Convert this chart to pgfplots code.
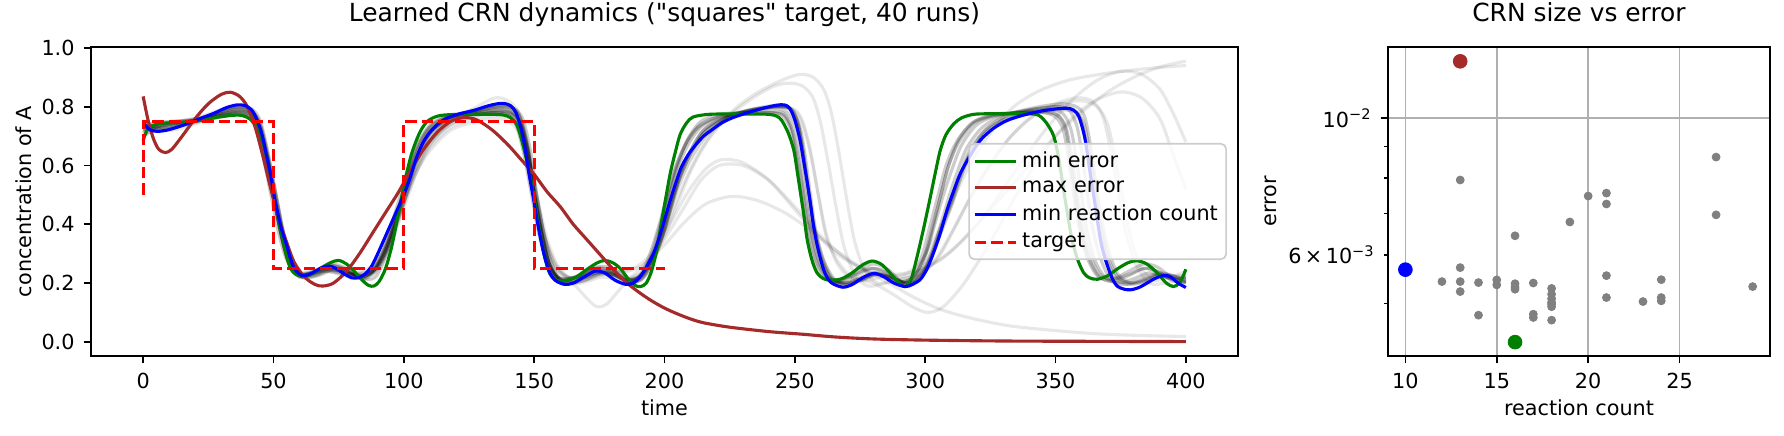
\documentclass[border=0pt]{standalone}
\usepackage{fontspec}
\setmainfont{DejaVu Sans}[Ligatures=TeXOff]
\usepackage{pgfplots}
\pgfplotsset{compat=1.18}
\definecolor{mgreen}{HTML}{008000}
\definecolor{mbrown}{HTML}{A52A2A}
\definecolor{mblue}{HTML}{0000FF}
\definecolor{mred}{HTML}{FF0000}
\definecolor{mgray}{HTML}{808080}
\definecolor{mgrid}{HTML}{B0B0B0}
\pgfplotsset{
  gb/.style={black, draw opacity=0.2, line width=1.5bp, smooth, forget plot, line join=round},
  go/.style={black, draw opacity=0.09, line width=1.5bp, smooth, forget plot, line join=round},
  common/.style={
    scale only axis, anchor=south west,
    axis line style={line width=0.8bp},
    tick style={line width=0.8bp, black},
    tick align=outside, xtick pos=bottom, ytick pos=left,
    major tick length=3.5bp, minor tick length=2bp,
    /pgf/number format/assume math mode=true,
    ticklabel style={font=\fontsize{10}{12}\selectfont},
    xticklabel style={inner sep=0pt, anchor=north, yshift=-4.6bp},
    yticklabel style={inner sep=0pt, anchor=east, xshift=-4.2bp},
    label style={font=\fontsize{10}{12}\selectfont, inner sep=0pt},
    xlabel style={at={(axis description cs:0.5,-0.191)}, anchor=base},
    title style={font=\fontsize{12}{14}\selectfont, at={(axis description cs:0.5,1)}, anchor=base, yshift=6.4bp, inner sep=0pt},
  }
}
\begin{document}
\begin{tikzpicture}
\begin{axis}[common,
  at={(43.68bp,37.92bp)}, width=550.56bp, height=148.32bp,
  xmin=-20, xmax=420, ymin=-0.048, ymax=1.003,
  xtick={0,50,100,150,200,250,300,350,400},
  ytick={0,0.2,0.4,0.6,0.8,1.0},
  yticklabel style={/pgf/number format/fixed, /pgf/number format/fixed zerofill, /pgf/number format/precision=1},
  xlabel={time}, ylabel={concentration of A},
  ylabel style={at={(axis description cs:-0.0521,0.5)}, anchor=base},
  title={Learned CRN dynamics ("squares" target, 40 runs)},
  legend cell align=left,
  legend image code/.code={\draw[line width=1.5bp,#1] (0pt,0pt) -- (20bp,0pt);},
  legend style={at={(axis description cs:1,0.5)}, anchor=east, xshift=-5.3bp,
    font=\fontsize{10}{12}\selectfont, draw=black!20, line width=0.8bp,
    fill=white, fill opacity=0.8, text opacity=1, draw opacity=1,
    rounded corners=2.5bp, inner xsep=2pt, inner ysep=2pt, row sep=0.6pt,
    /tikz/every even column/.append style={column sep=3.5pt}},
]
% gray bundle runs
\addplot[gb] coordinates {(0,0.73)(5,0.735)(10,0.74)(20,0.755)(30,0.78)(36,0.79)(41,0.78)(44,0.74)(47,0.63)(50,0.49)(53,0.36)(56,0.27)(60,0.225)(66,0.235)(72,0.25)(78,0.235)(84,0.225)(89,0.26)(93,0.33)(97,0.43)(100,0.51)(103,0.6)(107,0.68)(111,0.73)(118,0.765)(128,0.785)(136,0.795)(141,0.785)(144,0.75)(147,0.64)(150,0.5)(153,0.36)(156,0.26)(160,0.21)(166,0.215)(174,0.24)(180,0.23)(187,0.205)(192,0.24)(196,0.31)(199,0.4)(202,0.5)(205,0.59)(209,0.67)(214,0.73)(222,0.765)(232,0.785)(242,0.795)(247,0.78)(250,0.73)(252,0.64)(254,0.5)(256,0.39)(259,0.28)(263,0.215)(268,0.2)(274,0.215)(280,0.235)(286,0.22)(292,0.2)(297,0.24)(301,0.32)(304,0.41)(307,0.5)(310,0.58)(314,0.67)(320,0.74)(328,0.77)(338,0.785)(348,0.79)(353,0.775)(356,0.72)(358,0.62)(360,0.5)(362,0.38)(365,0.28)(369,0.22)(374,0.2)(380,0.215)(386,0.235)(391,0.225)(396,0.205)(400,0.205)};
\addplot[gb] coordinates {(0,0.72)(5,0.74)(10,0.745)(20,0.755)(30,0.77)(36,0.775)(40,0.765)(43,0.73)(46,0.63)(49,0.5)(52,0.37)(55,0.28)(59,0.235)(65,0.24)(71,0.26)(77,0.25)(83,0.22)(88,0.24)(92,0.31)(96,0.42)(99,0.51)(102,0.6)(106,0.68)(110,0.73)(117,0.765)(127,0.775)(136,0.78)(140,0.77)(143,0.74)(146,0.64)(149,0.5)(152,0.36)(155,0.27)(159,0.22)(165,0.22)(173,0.25)(179,0.245)(185,0.21)(190,0.22)(194,0.29)(198,0.4)(201,0.5)(204,0.59)(208,0.67)(213,0.73)(221,0.765)(231,0.775)(240,0.78)(245,0.77)(248,0.73)(250,0.65)(252,0.52)(254,0.4)(257,0.29)(261,0.22)(266,0.205)(272,0.225)(279,0.25)(285,0.235)(290,0.205)(295,0.22)(299,0.3)(302,0.4)(305,0.5)(308,0.6)(312,0.68)(318,0.745)(326,0.77)(336,0.78)(345,0.78)(350,0.765)(353,0.72)(355,0.62)(357,0.5)(359,0.39)(362,0.29)(366,0.225)(371,0.21)(378,0.23)(384,0.25)(389,0.24)(394,0.215)(400,0.22)};
\addplot[gb] coordinates {(0,0.75)(5,0.73)(10,0.735)(20,0.755)(30,0.785)(37,0.8)(42,0.79)(45,0.75)(48,0.64)(51,0.5)(54,0.36)(57,0.27)(61,0.22)(67,0.225)(73,0.245)(79,0.235)(85,0.215)(90,0.25)(94,0.32)(98,0.42)(101,0.5)(104,0.59)(108,0.67)(112,0.72)(120,0.765)(130,0.79)(138,0.8)(143,0.79)(146,0.75)(149,0.63)(151,0.5)(154,0.36)(157,0.26)(161,0.205)(168,0.205)(175,0.23)(181,0.225)(188,0.2)(193,0.23)(197,0.3)(200,0.38)(203,0.48)(206,0.57)(210,0.65)(215,0.72)(224,0.765)(234,0.79)(244,0.8)(249,0.79)(252,0.73)(254,0.63)(256,0.5)(258,0.38)(261,0.28)(265,0.215)(270,0.195)(276,0.21)(282,0.23)(288,0.215)(294,0.195)(299,0.23)(303,0.31)(306,0.4)(309,0.49)(312,0.57)(316,0.66)(322,0.73)(330,0.77)(340,0.79)(350,0.8)(355,0.79)(358,0.74)(360,0.65)(362,0.52)(364,0.4)(367,0.29)(371,0.215)(376,0.195)(382,0.21)(388,0.23)(393,0.22)(400,0.2)};
\addplot[gb] coordinates {(0,0.7)(5,0.73)(10,0.745)(20,0.76)(30,0.775)(36,0.785)(41,0.775)(44,0.735)(47,0.63)(50,0.5)(53,0.37)(56,0.27)(60,0.23)(66,0.235)(72,0.255)(78,0.24)(84,0.22)(89,0.25)(93,0.32)(97,0.42)(100,0.5)(103,0.59)(107,0.67)(111,0.725)(118,0.76)(128,0.78)(137,0.79)(142,0.78)(145,0.74)(148,0.63)(150,0.5)(153,0.36)(156,0.26)(160,0.215)(166,0.22)(174,0.245)(180,0.235)(187,0.21)(192,0.235)(196,0.3)(200,0.4)(203,0.49)(206,0.57)(210,0.65)(215,0.72)(223,0.765)(233,0.79)(243,0.8)(248,0.79)(251,0.74)(253,0.64)(255,0.5)(257,0.38)(260,0.28)(264,0.215)(269,0.2)(275,0.215)(281,0.235)(287,0.22)(293,0.2)(298,0.23)(302,0.3)(306,0.39)(310,0.48)(313,0.56)(317,0.65)(323,0.72)(331,0.76)(341,0.78)(352,0.79)(358,0.78)(361,0.74)(363,0.65)(365,0.52)(367,0.4)(370,0.29)(374,0.22)(379,0.2)(385,0.215)(390,0.235)(395,0.225)(400,0.21)};
\addplot[gb] coordinates {(0,0.74)(5,0.745)(10,0.75)(20,0.755)(30,0.77)(36,0.78)(41,0.77)(44,0.74)(47,0.64)(50,0.5)(53,0.36)(56,0.27)(60,0.23)(66,0.24)(72,0.26)(78,0.245)(84,0.225)(89,0.245)(93,0.31)(97,0.42)(100,0.52)(103,0.61)(107,0.69)(111,0.74)(118,0.77)(128,0.78)(137,0.785)(142,0.775)(145,0.74)(148,0.63)(150,0.5)(153,0.36)(156,0.26)(160,0.215)(166,0.22)(174,0.25)(180,0.24)(186,0.215)(191,0.225)(195,0.3)(199,0.42)(202,0.52)(205,0.61)(209,0.69)(214,0.74)(222,0.77)(232,0.78)(241,0.785)(246,0.775)(249,0.72)(251,0.62)(253,0.5)(255,0.39)(258,0.28)(262,0.22)(267,0.205)(273,0.225)(280,0.25)(286,0.235)(291,0.205)(296,0.225)(300,0.3)(303,0.4)(306,0.5)(309,0.6)(313,0.68)(319,0.745)(327,0.77)(337,0.78)(346,0.785)(351,0.77)(354,0.72)(356,0.6)(358,0.48)(360,0.37)(363,0.28)(367,0.22)(372,0.205)(378,0.225)(384,0.25)(389,0.24)(394,0.215)(400,0.215)};
\addplot[gb] coordinates {(0,0.73)(5,0.725)(10,0.73)(20,0.75)(30,0.78)(36,0.795)(41,0.785)(44,0.745)(47,0.64)(50,0.5)(53,0.36)(56,0.265)(60,0.22)(66,0.225)(72,0.245)(78,0.235)(84,0.215)(89,0.245)(93,0.31)(97,0.41)(100,0.5)(103,0.59)(107,0.67)(111,0.72)(118,0.76)(128,0.785)(137,0.8)(142,0.79)(145,0.75)(148,0.64)(150,0.51)(153,0.37)(156,0.265)(160,0.21)(166,0.21)(174,0.235)(180,0.23)(187,0.205)(192,0.23)(196,0.3)(200,0.39)(203,0.48)(206,0.56)(210,0.64)(215,0.71)(223,0.76)(233,0.785)(243,0.8)(248,0.795)(251,0.75)(253,0.66)(255,0.53)(257,0.41)(260,0.3)(264,0.22)(269,0.2)(275,0.21)(281,0.23)(287,0.22)(293,0.2)(298,0.225)(302,0.29)(306,0.38)(310,0.47)(313,0.55)(317,0.64)(323,0.72)(331,0.77)(341,0.795)(352,0.81)(358,0.8)(361,0.77)(363,0.69)(365,0.57)(367,0.45)(370,0.32)(374,0.23)(379,0.2)(385,0.21)(390,0.23)(395,0.225)(400,0.205)};
\addplot[gb] coordinates {(0,0.74)(5,0.72)(10,0.725)(20,0.75)(30,0.785)(36,0.8)(41,0.79)(44,0.75)(47,0.645)(50,0.5)(53,0.36)(56,0.265)(60,0.225)(66,0.23)(72,0.25)(78,0.24)(84,0.22)(89,0.25)(93,0.32)(97,0.42)(100,0.5)(103,0.58)(107,0.66)(111,0.72)(118,0.765)(128,0.79)(137,0.805)(142,0.795)(145,0.755)(148,0.645)(150,0.51)(153,0.37)(156,0.26)(160,0.205)(166,0.205)(174,0.235)(180,0.23)(187,0.2)(192,0.225)(196,0.29)(200,0.38)(203,0.47)(206,0.56)(210,0.64)(215,0.71)(223,0.76)(233,0.79)(243,0.805)(248,0.795)(251,0.75)(253,0.66)(255,0.53)(257,0.41)(260,0.29)(264,0.21)(269,0.195)(275,0.21)(281,0.23)(287,0.215)(293,0.195)(298,0.22)(302,0.28)(306,0.37)(310,0.46)(313,0.54)(317,0.63)(323,0.71)(331,0.76)(341,0.79)(352,0.8)(357,0.79)(360,0.75)(362,0.66)(364,0.54)(366,0.42)(369,0.3)(373,0.22)(378,0.195)(384,0.205)(389,0.225)(394,0.22)(400,0.2)};
\addplot[gb] coordinates {(0,0.71)(5,0.74)(10,0.745)(20,0.75)(30,0.765)(36,0.775)(41,0.765)(44,0.73)(47,0.63)(50,0.5)(53,0.37)(56,0.275)(60,0.23)(66,0.24)(72,0.265)(78,0.25)(84,0.215)(89,0.22)(93,0.29)(97,0.41)(100,0.52)(103,0.62)(107,0.7)(111,0.745)(118,0.77)(128,0.775)(137,0.78)(142,0.77)(145,0.735)(148,0.63)(150,0.5)(153,0.35)(156,0.25)(160,0.21)(166,0.22)(174,0.255)(180,0.25)(186,0.215)(191,0.21)(195,0.27)(199,0.39)(202,0.5)(205,0.6)(209,0.69)(214,0.75)(222,0.775)(232,0.78)(241,0.78)(246,0.77)(249,0.72)(251,0.64)(253,0.53)(255,0.42)(258,0.3)(262,0.225)(267,0.21)(273,0.235)(280,0.265)(286,0.245)(291,0.205)(296,0.215)(300,0.29)(303,0.39)(306,0.5)(309,0.6)(313,0.69)(319,0.75)(327,0.775)(337,0.78)(346,0.78)(351,0.77)(354,0.73)(356,0.64)(358,0.52)(360,0.41)(363,0.3)(367,0.23)(372,0.215)(378,0.24)(384,0.265)(389,0.255)(394,0.225)(400,0.225)};
% gray outlier runs
\addplot[go] coordinates {(0,0.72)(10,0.74)(20,0.76)(30,0.79)(37,0.8)(42,0.785)(45,0.74)(48,0.63)(51,0.5)(54,0.36)(57,0.26)(61,0.22)(70,0.24)(80,0.22)(88,0.24)(93,0.31)(97,0.41)(101,0.51)(105,0.62)(110,0.7)(118,0.76)(128,0.79)(136,0.81)(141,0.8)(145,0.76)(148,0.65)(151,0.5)(154,0.35)(157,0.25)(162,0.2)(170,0.21)(178,0.23)(186,0.21)(192,0.24)(197,0.31)(202,0.42)(207,0.53)(213,0.64)(220,0.73)(228,0.8)(236,0.85)(245,0.89)(252,0.91)(257,0.9)(261,0.86)(264,0.78)(267,0.64)(270,0.48)(273,0.34)(277,0.24)(282,0.2)(288,0.21)(294,0.22)(300,0.24)(306,0.3)(312,0.4)(318,0.5)(325,0.6)(333,0.7)(342,0.77)(352,0.81)(360,0.82)(366,0.8)(370,0.74)(373,0.62)(376,0.48)(379,0.35)(383,0.25)(388,0.21)(394,0.22)(400,0.24)};
\addplot[go] coordinates {(0,0.74)(10,0.72)(20,0.74)(30,0.775)(37,0.79)(42,0.78)(45,0.74)(48,0.62)(51,0.48)(54,0.35)(57,0.26)(61,0.22)(70,0.25)(80,0.23)(88,0.23)(93,0.29)(97,0.38)(101,0.48)(105,0.58)(110,0.67)(118,0.75)(128,0.8)(135,0.83)(140,0.82)(144,0.78)(147,0.67)(150,0.52)(153,0.37)(156,0.26)(161,0.2)(168,0.2)(176,0.22)(184,0.21)(190,0.22)(195,0.27)(200,0.36)(205,0.47)(210,0.58)(217,0.69)(225,0.77)(234,0.83)(242,0.87)(248,0.88)(253,0.87)(257,0.83)(260,0.74)(263,0.6)(266,0.45)(269,0.32)(273,0.23)(278,0.19)(285,0.2)(292,0.215)(298,0.23)(304,0.28)(310,0.37)(316,0.47)(323,0.58)(331,0.68)(340,0.76)(350,0.81)(358,0.83)(364,0.82)(368,0.77)(371,0.66)(374,0.51)(377,0.37)(381,0.26)(386,0.2)(392,0.2)(400,0.22)};
\addplot[go] coordinates {(0,0.72)(10,0.73)(20,0.75)(30,0.77)(37,0.78)(42,0.77)(45,0.73)(48,0.62)(51,0.48)(54,0.36)(57,0.27)(61,0.23)(70,0.24)(80,0.23)(88,0.25)(93,0.31)(97,0.4)(101,0.5)(105,0.59)(110,0.67)(118,0.74)(128,0.77)(136,0.78)(141,0.77)(145,0.72)(148,0.61)(151,0.47)(154,0.34)(158,0.25)(164,0.22)(172,0.23)(180,0.24)(188,0.25)(195,0.3)(202,0.4)(209,0.51)(216,0.59)(222,0.62)(230,0.61)(240,0.55)(250,0.45)(258,0.37)(266,0.3)(276,0.25)(286,0.23)(296,0.24)(306,0.28)(316,0.36)(326,0.47)(336,0.6)(346,0.72)(356,0.82)(366,0.89)(375,0.92)(383,0.91)(390,0.86)(395,0.78)(400,0.68)};
\addplot[go] coordinates {(0,0.72)(10,0.74)(20,0.75)(30,0.77)(37,0.78)(42,0.765)(45,0.72)(48,0.61)(51,0.48)(54,0.36)(57,0.27)(61,0.23)(70,0.24)(80,0.23)(88,0.26)(93,0.32)(97,0.41)(101,0.5)(105,0.58)(110,0.65)(118,0.72)(128,0.75)(136,0.76)(141,0.745)(145,0.7)(149,0.58)(152,0.46)(155,0.35)(159,0.26)(165,0.2)(170,0.15)(174,0.12)(178,0.13)(184,0.19)(192,0.26)(200,0.33)(208,0.41)(216,0.47)(226,0.495)(236,0.48)(246,0.44)(256,0.38)(266,0.31)(276,0.25)(286,0.2)(296,0.15)(306,0.11)(318,0.08)(332,0.055)(348,0.04)(365,0.028)(382,0.022)(400,0.018)};
\addplot[go] coordinates {(0,0.73)(10,0.74)(20,0.755)(30,0.775)(37,0.785)(42,0.77)(45,0.73)(48,0.62)(51,0.49)(54,0.36)(57,0.27)(61,0.23)(70,0.245)(80,0.23)(88,0.245)(93,0.3)(97,0.39)(101,0.49)(105,0.58)(110,0.66)(118,0.73)(128,0.76)(136,0.77)(141,0.76)(145,0.72)(148,0.62)(151,0.49)(154,0.36)(158,0.27)(163,0.22)(170,0.22)(178,0.24)(186,0.24)(193,0.27)(200,0.35)(207,0.45)(214,0.55)(221,0.6)(230,0.6)(240,0.55)(250,0.46)(260,0.36)(270,0.28)(280,0.23)(290,0.22)(300,0.25)(310,0.31)(320,0.4)(330,0.5)(340,0.6)(350,0.7)(360,0.78)(370,0.85)(380,0.9)(390,0.935)(400,0.955)};
\addplot[go] coordinates {(0,0.74)(10,0.73)(20,0.745)(30,0.775)(37,0.79)(42,0.78)(45,0.74)(48,0.63)(51,0.5)(54,0.37)(57,0.27)(61,0.225)(70,0.245)(80,0.225)(88,0.24)(93,0.31)(97,0.41)(101,0.51)(105,0.6)(110,0.68)(118,0.745)(128,0.775)(136,0.785)(141,0.775)(145,0.73)(148,0.62)(151,0.49)(154,0.36)(158,0.26)(163,0.21)(170,0.215)(178,0.235)(186,0.21)(192,0.235)(197,0.31)(201,0.41)(205,0.52)(210,0.62)(216,0.7)(224,0.76)(234,0.79)(244,0.8)(250,0.785)(253,0.74)(256,0.64)(259,0.5)(262,0.37)(266,0.27)(271,0.22)(278,0.21)(285,0.225)(292,0.23)(298,0.27)(304,0.36)(310,0.47)(317,0.6)(325,0.71)(334,0.8)(344,0.855)(355,0.89)(367,0.91)(380,0.925)(392,0.935)(400,0.94)};
\addplot[go] coordinates {(0,0.7)(10,0.74)(20,0.75)(30,0.775)(37,0.785)(42,0.775)(45,0.735)(48,0.63)(51,0.5)(54,0.37)(57,0.27)(61,0.23)(70,0.25)(80,0.23)(88,0.24)(93,0.3)(97,0.4)(101,0.5)(105,0.6)(110,0.68)(118,0.74)(128,0.77)(136,0.785)(141,0.775)(145,0.73)(148,0.62)(151,0.49)(154,0.36)(158,0.26)(163,0.22)(170,0.22)(178,0.24)(186,0.22)(192,0.24)(197,0.31)(201,0.41)(205,0.52)(210,0.62)(216,0.7)(224,0.76)(234,0.79)(244,0.8)(250,0.79)(253,0.75)(256,0.65)(259,0.5)(262,0.36)(266,0.28)(272,0.22)(280,0.2)(288,0.16)(295,0.12)(301,0.1)(307,0.12)(315,0.2)(325,0.34)(335,0.5)(345,0.64)(355,0.75)(365,0.82)(375,0.85)(383,0.83)(390,0.76)(395,0.64)(400,0.52)};
% highlighted runs
\addplot[mgreen, line width=1.5bp, smooth, line join=round] coordinates {(0,0.685)(1.5,0.72)(3.5,0.735)(6,0.742)(10,0.745)(15,0.746)(20,0.75)(25,0.758)(30,0.766)(35,0.771)(38,0.77)(41,0.758)(43.5,0.73)(46,0.675)(48,0.615)(50,0.505)(51.5,0.43)(53,0.37)(54.8,0.3)(56.5,0.25)(58.5,0.23)(61,0.222)(64,0.228)(68,0.25)(72,0.27)(75,0.277)(78,0.265)(81,0.24)(84,0.21)(86.5,0.192)(88.5,0.19)(90.5,0.205)(93,0.25)(95.5,0.33)(98,0.44)(100.5,0.55)(103,0.64)(106,0.71)(109,0.75)(113,0.768)(118,0.773)(125,0.774)(133,0.774)(138,0.772)(141,0.762)(143.5,0.735)(146,0.66)(148,0.58)(150,0.49)(152,0.38)(154,0.29)(156,0.232)(158.5,0.21)(162,0.208)(166,0.22)(170,0.245)(174,0.268)(177,0.277)(180,0.27)(183,0.25)(186,0.215)(188.5,0.193)(190.8,0.188)(193,0.2)(195,0.24)(197,0.31)(198.5,0.39)(200.5,0.49)(202.2,0.573)(204,0.64)(206,0.705)(208.5,0.745)(211,0.765)(217,0.774)(225,0.775)(234,0.775)(240,0.774)(243,0.768)(245,0.753)(247.5,0.71)(249.6,0.652)(251,0.575)(252,0.517)(253.5,0.43)(254.7,0.35)(256.5,0.28)(258.5,0.235)(261,0.215)(264.3,0.21)(268,0.215)(272,0.235)(276,0.262)(279.6,0.275)(283,0.265)(286,0.24)(289,0.21)(292.3,0.188)(294.5,0.21)(296.9,0.29)(299.5,0.39)(302,0.494)(304,0.58)(305.8,0.652)(308,0.705)(311,0.742)(314,0.762)(318.6,0.774)(325,0.776)(334,0.776)(341.6,0.775)(344,0.768)(346.5,0.745)(349.3,0.7)(351.3,0.62)(353.1,0.517)(354.7,0.43)(356.3,0.348)(358.5,0.28)(360.8,0.235)(363,0.218)(366,0.213)(370,0.225)(374,0.25)(378,0.27)(381.3,0.276)(385,0.265)(389,0.235)(392.5,0.2)(395.3,0.188)(397.5,0.2)(399,0.225)(400,0.247)};
\addlegendentry{min error}
\addplot[mbrown, line width=1.5bp, smooth, line join=round] coordinates {(0,0.835)(2,0.75)(4,0.69)(6,0.655)(8.5,0.644)(11,0.655)(15,0.7)(20,0.76)(25,0.81)(30,0.842)(33.5,0.849)(37,0.835)(40,0.8)(43,0.73)(46,0.63)(49,0.52)(52,0.42)(55,0.34)(58,0.27)(62,0.22)(66,0.195)(69,0.19)(73,0.2)(78,0.24)(83,0.3)(88,0.37)(93,0.44)(98,0.51)(103,0.59)(108,0.66)(113,0.715)(118,0.75)(123,0.763)(128,0.755)(134,0.72)(140,0.67)(145,0.62)(150,0.57)(155,0.51)(160,0.46)(165,0.4)(170,0.35)(175,0.3)(180,0.25)(185,0.205)(190,0.17)(195,0.14)(200,0.115)(205,0.095)(210,0.078)(215,0.065)(225,0.05)(240,0.035)(253,0.026)(265,0.017)(280,0.01)(300,0.006)(330,0.003)(360,0.002)(400,0.001)};
\addlegendentry{max error}
\addplot[mblue, line width=1.5bp, smooth, line join=round] coordinates {(0,0.745)(1.5,0.73)(3,0.72)(5.5,0.716)(9,0.72)(13,0.73)(17,0.742)(22,0.76)(27,0.777)(32,0.797)(36,0.806)(39,0.804)(41.5,0.79)(43.5,0.76)(45.5,0.708)(47.2,0.64)(48.8,0.575)(50.2,0.5)(51.6,0.44)(53.2,0.38)(55,0.33)(56.5,0.285)(58,0.25)(60,0.23)(62,0.225)(65,0.235)(68,0.25)(71,0.258)(74,0.25)(77,0.232)(80,0.218)(82.5,0.218)(85,0.23)(87.5,0.255)(90,0.3)(92.5,0.35)(95,0.4)(97.5,0.45)(100,0.5)(102.5,0.56)(105,0.63)(107.5,0.68)(110,0.713)(113,0.74)(116,0.759)(121,0.775)(126.7,0.787)(132,0.802)(136,0.81)(138.5,0.811)(141,0.803)(143,0.78)(145,0.725)(146.5,0.66)(148,0.573)(149.5,0.5)(151,0.42)(152.5,0.35)(154,0.29)(155.8,0.24)(158,0.21)(161.5,0.196)(165,0.2)(169,0.22)(173.5,0.241)(177,0.235)(181,0.21)(185,0.196)(188,0.2)(191,0.225)(194,0.27)(196,0.305)(198.5,0.37)(200.5,0.43)(202.5,0.49)(204.5,0.545)(206.5,0.595)(209,0.635)(211.5,0.665)(215,0.7)(218,0.72)(222,0.745)(226,0.762)(232,0.78)(238,0.795)(243,0.805)(246,0.806)(248,0.795)(250,0.755)(252,0.686)(253.3,0.62)(254.6,0.551)(256,0.47)(257.2,0.393)(258.8,0.32)(261,0.247)(263,0.21)(265,0.196)(268.5,0.186)(272,0.195)(276,0.218)(280.3,0.233)(284,0.222)(288,0.2)(292.3,0.188)(295,0.195)(298.2,0.213)(300.8,0.25)(303.2,0.303)(305.8,0.37)(308.4,0.449)(311,0.515)(313.5,0.573)(317,0.63)(321.2,0.686)(326,0.725)(331.4,0.753)(338,0.772)(345,0.786)(352,0.794)(355.7,0.793)(358,0.78)(359.5,0.753)(361.4,0.686)(363.3,0.573)(365.3,0.46)(367.2,0.348)(368.8,0.29)(370.4,0.247)(372,0.212)(373.6,0.19)(376,0.18)(378.7,0.177)(382,0.185)(385.1,0.2)(388,0.215)(391.5,0.226)(394,0.222)(397,0.2)(400,0.185)};
\addlegendentry{min reaction count}
\addplot[mred, line width=1.5bp, dash pattern=on 5.55bp off 2.4bp] coordinates {(0,0.5)(0,0.75)(50,0.75)(50,0.25)(100,0.25)(100,0.75)(150,0.75)(150,0.25)(200,0.25)};
\addlegendentry{target}
\end{axis}

\begin{axis}[common,
  at={(666.24bp,37.92bp)}, width=183.36bp, height=148.32bp,
  xmin=9.05, xmax=29.95, ymode=log, ymin=0.004108, ymax=0.01305,
  xtick={10,15,20,25},
  ytick={0.01}, yticklabels={10\textsuperscript{−2}},
  extra y ticks={0.006}, extra y tick labels={6\,×\,10\textsuperscript{−3}},
  extra y tick style={ymajorgrids=false, major tick length=2bp},
  minor ytick={0.005,0.007,0.008,0.009},
  xmajorgrids, ymajorgrids, yminorgrids=false,
  grid style={mgrid, line width=0.8bp},
  xlabel={reaction count}, ylabel={error},
  ylabel style={at={(axis description cs:-0.2919,0.5)}, anchor=base},
  title={CRN size vs error},
]
\addplot[only marks, mgray, mark=*, mark size=1.9bp, mark options={draw=none, fill=mgray}] coordinates {
(13,0.007937)(13,0.005718)(13,0.005427)(13,0.005228)(12,0.005427)(14,0.005407)(14,0.004786)
(15,0.005461)(15,0.005360)(16,0.006441)(16,0.005384)(16,0.005274)(16,0.00532)
(17,0.005398)(17,0.004804)(17,0.004745)
(18,0.005290)(18,0.005176)(18,0.00509)(18,0.00502)(18,0.00494)(18,0.00499)(18,0.004698)
(19,0.006783)(20,0.007474)(21,0.007557)(21,0.007256)(21,0.005549)(21,0.005112)
(23,0.005036)(24,0.005466)(24,0.005112)(24,0.00505)(27,0.008646)(27,0.006966)(29,0.005326)};
\addplot[only marks, mbrown, mark=*, mark size=3.3bp, mark options={draw=none, fill=mbrown}] coordinates {(13,0.01237)};
\addplot[only marks, mblue, mark=*, mark size=3.3bp, mark options={draw=none, fill=mblue}] coordinates {(10,0.005675)};
\addplot[only marks, mgreen, mark=*, mark size=3.3bp, mark options={draw=none, fill=mgreen}] coordinates {(16,0.004327)};
\end{axis}
\pgfresetboundingbox
\path[use as bounding box] (0,0) rectangle (856.32bp,208.8bp);
\end{tikzpicture}
\end{document}
